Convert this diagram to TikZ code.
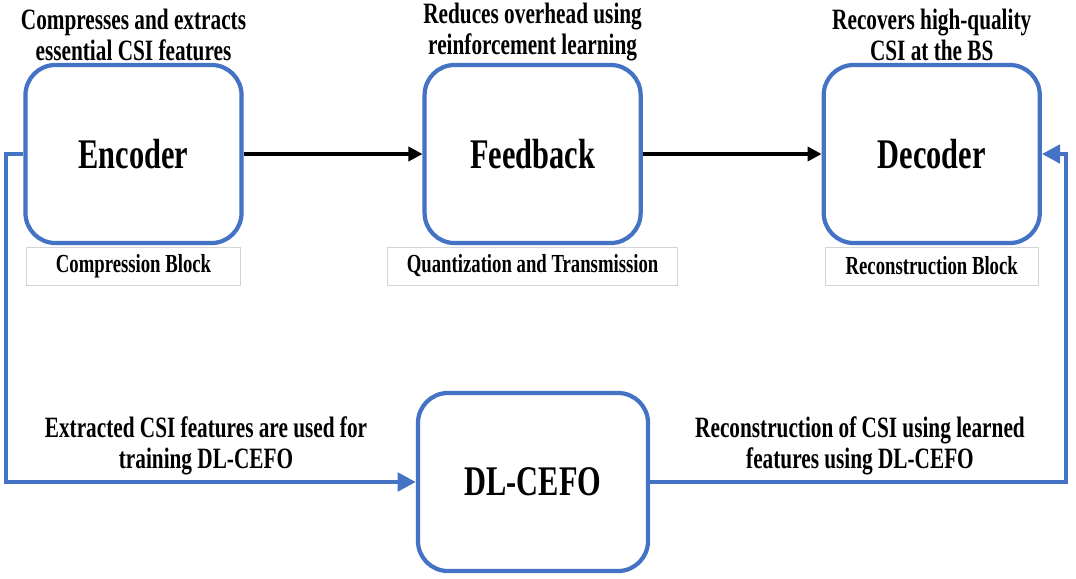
\documentclass[tikz,border=0pt]{standalone}
\usepackage{fontspec}
\setmainfont[FakeStretch=0.72]{Liberation Serif}
\usepackage{tikz}
\usetikzlibrary{arrows.meta, positioning}
\definecolor{csiBlue}{HTML}{4472C4}
\definecolor{csiGray}{HTML}{D4D4D4}

\begin{document}
\begin{tikzpicture}[
  x=0.025cm, y=-0.025cm,
  block/.style={draw=csiBlue, line width=3pt, rounded corners=0.75cm, fill=white,
                minimum width=5.4cm, minimum height=4.45cm,
                font=\fontsize{30}{32}\selectfont\bfseries},
  tag/.style={draw=csiGray, line width=0.6pt, minimum height=0.95cm, inner sep=0pt,
              font=\fontsize{18.5}{20}\selectfont\bfseries},
  note/.style={align=center, inner sep=1pt, font=\fontsize{21}{22.5}\selectfont\bfseries},
  arr/.style={-{Triangle[length=10pt,width=10pt]}, line width=2.6pt},
  barr/.style={-{Triangle[length=13pt,width=13pt]}, draw=csiBlue, line width=3.2pt}
]
  \useasboundingbox (0,0) rectangle (1076,578);

  \node[block] (enc) at (133.5,154) {Encoder};
  \node[block, right=4.47cm of enc] (fb) {Feedback};
  \node[block, right=4.47cm of fb] (dec) {Decoder};
  \node[block, minimum width=5.75cm, minimum height=4.45cm] (dl) at (533,482) {DL-CEFO};

  \node[tag, minimum width=5.33cm, below=1pt of enc] (encTag) {Compression Block};
  \node[tag, minimum width=7.25cm, below=1pt of fb] (fbTag) {Quantization and Transmission};
  \node[tag, minimum width=5.33cm, below=1pt of dec] (decTag) {Reconstruction Block};

  \node[note, above=0cm of enc] (encNote) {Compresses and extracts\\essential CSI features};
  \node[note, above=0cm of fb] (fbNote) {Reduces overhead using\\reinforcement learning};
  \node[note, above=0cm of dec] (decNote) {Recovers high-quality\\CSI at the BS};
  \node[note] (trainNote) at (206,446) {Extracted CSI features are used for\\training DL-CEFO};
  \node[note] (recNote) at (860,446) {Reconstruction of CSI using learned\\features using DL-CEFO};

  \draw[arr] (enc) -- (fb);
  \draw[arr] (fb) -- (dec);
  \draw[barr] (enc.west) -- ([xshift=-0.43cm]enc.west) |- (dl.west);
  \draw[barr] (dl.east) -| ([xshift=0.6cm]dec.east) -- (dec.east);
\end{tikzpicture}
\end{document}
